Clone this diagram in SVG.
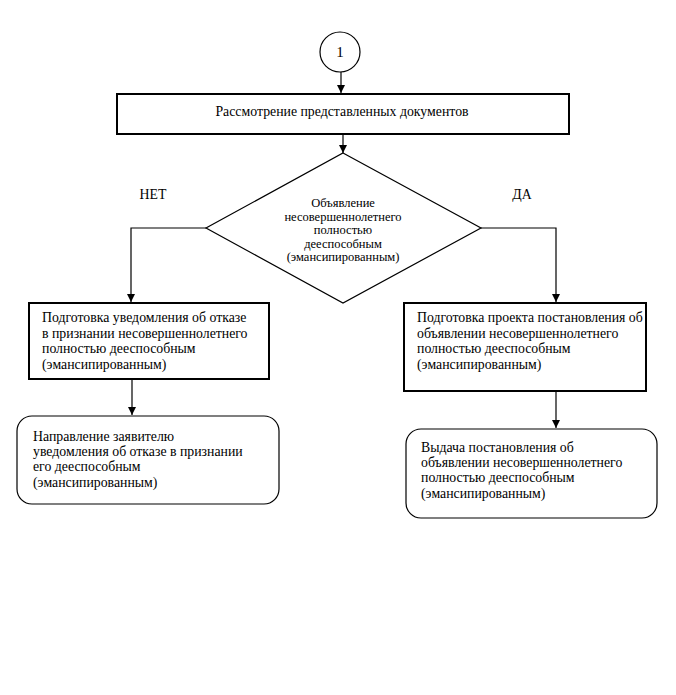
<svg xmlns="http://www.w3.org/2000/svg" width="676" height="695" viewBox="0 0 676 695">
<style>
text{font-family:'Liberation Serif','DejaVu Serif',serif;font-size:13.8px;fill:#000}
.c{text-anchor:middle}
.d{font-size:12.5px}
.box{fill:#fff;stroke:#000;stroke-width:2}
.rbox{fill:#fff;stroke:#000;stroke-width:1.2}
.ln{fill:none;stroke:#000;stroke-width:1.2}
</style>
<defs>
<marker id="ah" viewBox="0 0 10 10" refX="10" refY="5" markerWidth="8" markerHeight="8" markerUnits="userSpaceOnUse" orient="auto">
<path d="M0,0 L10,5 L0,10 z" fill="#000"/>
</marker>
</defs>
<rect width="676" height="695" fill="#fff"/>
<g id="connectors">
<line class="ln" x1="341" y1="72" x2="341" y2="93" marker-end="url(#ah)"/>
<line class="ln" x1="343" y1="135" x2="343" y2="153" marker-end="url(#ah)"/>
<polyline class="ln" points="206,228 131,228 131,302" marker-end="url(#ah)"/>
<polyline class="ln" points="481,228 556,228 556,302" marker-end="url(#ah)"/>
<line class="ln" x1="132" y1="380" x2="132" y2="415" marker-end="url(#ah)"/>
<line class="ln" x1="556" y1="392" x2="556" y2="428" marker-end="url(#ah)"/>
<text class="c" x="153" y="199">НЕТ</text>
<text class="c" x="522" y="199">ДА</text>
</g>
<g id="start">
<circle cx="340" cy="52" r="20" fill="#fff" stroke="#000" stroke-width="1.2"/>
<text class="c" x="340" y="57" style="font-size:15px">1</text>
</g>
<g id="review">
<rect class="box" x="117" y="94" width="452" height="40"/>
<text class="c" x="342" y="116">Рассмотрение представленных документов</text>
</g>
<g id="decision">
<polygon points="343,153 481,228 343,303 206,228" fill="#fff" stroke="#000" stroke-width="1.2"/>
<text class="c d" x="343" y="207">Объявление</text>
<text class="c d" x="343" y="220.5">несовершеннолетнего</text>
<text class="c d" x="343" y="234">полностью</text>
<text class="c d" x="343" y="247.5">дееспособным</text>
<text class="c d" x="343" y="261">(эмансипированным)</text>
</g>
<g id="refusal-prep">
<rect class="box" x="29" y="303" width="240" height="76"/>
<text x="42" y="322">Подготовка уведомления об отказе</text>
<text x="42" y="337.5">в признании несовершеннолетнего</text>
<text x="42" y="353">полностью дееспособным</text>
<text x="42" y="368.5">(эмансипированным)</text>
</g>
<g id="refusal-send">
<rect class="rbox" x="17" y="416" width="262" height="88" rx="15" ry="15"/>
<text x="33" y="441">Направление заявителю</text>
<text x="33" y="456">уведомления об отказе в признании</text>
<text x="33" y="471">его дееспособным</text>
<text x="33" y="487">(эмансипированным)</text>
</g>
<g id="decree-prep">
<rect class="box" x="404" y="303" width="242" height="88"/>
<text x="417" y="322">Подготовка проекта постановления об</text>
<text x="417" y="337.5">объявлении несовершеннолетнего</text>
<text x="417" y="353">полностью дееспособным</text>
<text x="417" y="368.5">(эмансипированным)</text>
</g>
<g id="decree-issue">
<rect class="rbox" x="406" y="429" width="251" height="89" rx="15" ry="15"/>
<text x="421" y="452">Выдача постановления об</text>
<text x="421" y="467">объявлении несовершеннолетнего</text>
<text x="421" y="482">полностью дееспособным</text>
<text x="421" y="498">(эмансипированным)</text>
</g>
</svg>
